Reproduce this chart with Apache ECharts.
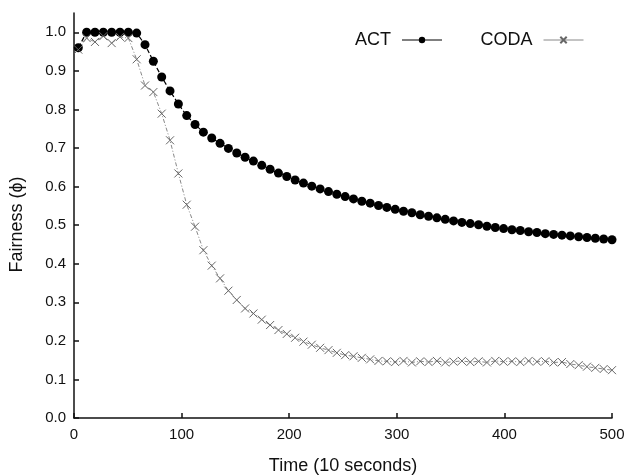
<!DOCTYPE html>
<html>
<head>
<meta charset="utf-8">
<script src="https://cdn.jsdelivr.net/npm/echarts@6/dist/echarts.min.js"></script>
<style>html,body{margin:0;padding:0;background:#fff}#c{width:638px;height:476px}</style>
</head>
<body>
<div id="c"></div>
<script>
// Time positions (10 s units)
var times = [4, 11.75, 19.5, 27.25, 35, 42.75, 50.5, 58.25, 66, 73.75, 81.5, 89.25, 97, 104.75, 112.5, 120.25,
  128, 135.75, 143.5, 151.25, 159, 166.75, 174.5, 182.25, 190, 197.75, 205.5, 213.25, 221, 228.75, 236.5, 244.25,
  252, 259.75, 267.5, 275.25, 283, 290.75, 298.5, 306.25, 314, 321.75, 329.5, 337.25, 345, 352.75, 360.5, 368.25,
  376, 383.75, 391.5, 399.25, 407, 414.75, 422.5, 430.25, 438, 445.75, 453.5, 461.25, 469, 476.75, 484.5, 492.25, 500];

var actValues = [0.96, 1.0, 1.0, 1.0, 1.0, 1.0, 1.0, 0.998, 0.968, 0.925, 0.884, 0.848, 0.814, 0.784, 0.761, 0.741,
  0.726, 0.712, 0.699, 0.687, 0.676, 0.666, 0.655, 0.645, 0.635, 0.626, 0.617, 0.609, 0.601, 0.594, 0.587, 0.580,
  0.574, 0.568, 0.562, 0.557, 0.551, 0.546, 0.541, 0.536, 0.532, 0.527, 0.523, 0.519, 0.515, 0.511, 0.507, 0.504,
  0.501, 0.497, 0.494, 0.491, 0.488, 0.486, 0.483, 0.481, 0.478, 0.476, 0.474, 0.472, 0.470, 0.468, 0.466, 0.464, 0.462];

var codaValues = [0.955, 0.985, 0.975, 0.99, 0.972, 0.988, 0.985, 0.93, 0.862, 0.845, 0.789, 0.720, 0.634, 0.553, 0.496, 0.435,
  0.395, 0.362, 0.330, 0.306, 0.284, 0.271, 0.255, 0.241, 0.228, 0.218, 0.208, 0.198, 0.190, 0.182, 0.176, 0.169,
  0.163, 0.160, 0.156, 0.152, 0.148, 0.147, 0.145, 0.148, 0.144, 0.147, 0.145, 0.148, 0.144, 0.146, 0.148, 0.145,
  0.147, 0.144, 0.148, 0.146, 0.147, 0.145, 0.148, 0.146, 0.147, 0.144, 0.145, 0.140, 0.137, 0.133, 0.130, 0.127, 0.124];

var xTicks = [0, 100, 200, 300, 400, 500];
var yTicks = [0, 0.1, 0.2, 0.3, 0.4, 0.5, 0.6, 0.7, 0.8, 0.9, 1.0];
var seriesNames = ['ACT', 'CODA'];

function pairs(xs, ys) { return xs.map(function (x, i) { return [x, ys[i]]; }); }

var font = 'Liberation Sans, Arial, Helvetica, sans-serif';
var chart = echarts.init(document.getElementById('c'));
chart.setOption({
  animation: false,
  backgroundColor: '#fff',
  grid: { left: 74, right: 26, top: 13, bottom: 58, containLabel: false, outerBoundsMode: 'none' },
  legend: {
    left: 350, top: 26, align: 'right', itemWidth: 40, itemHeight: 8, itemGap: 38,
    textStyle: { fontFamily: font, fontSize: 18, color: '#111', padding: [0, 6, 0, 0] },
    lineStyle: { type: 'solid', width: 1 },
    data: seriesNames
  },
  xAxis: {
    type: 'value', min: 0, max: 500, interval: 100,
    name: 'Time (10 seconds)', nameLocation: 'middle', nameGap: 39,
    nameTextStyle: { fontFamily: font, fontSize: 18, color: '#111' },
    axisLine: { lineStyle: { color: '#111', width: 1.5 } },
    axisTick: { inside: true, length: 5, lineStyle: { color: '#111', width: 1.5 }, customValues: xTicks },
    axisLabel: { fontFamily: font, fontSize: 15, color: '#111', margin: 9, customValues: xTicks },
    splitLine: { show: false }
  },
  yAxis: {
    type: 'value', min: 0, max: 1.05,
    name: 'Fairness (ϕ)', nameLocation: 'middle', nameGap: 48,
    nameTextStyle: { fontFamily: font, fontSize: 18, color: '#111', padding: [0, 0, 0, -18] },
    axisLine: { show: true, lineStyle: { color: '#111', width: 1.5 } },
    axisTick: { show: true, inside: true, length: 5, lineStyle: { color: '#111', width: 1.5 }, customValues: yTicks },
    axisLabel: { fontFamily: font, fontSize: 15, color: '#111', margin: 8, customValues: yTicks,
      formatter: function (v) { return v.toFixed(1); } },
    splitLine: { show: false }
  },
  series: [
    {
      name: 'ACT', type: 'line', data: pairs(times, actValues),
      symbol: 'circle', symbolSize: 9, showAllSymbol: true,
      itemStyle: { color: '#000' },
      lineStyle: { color: '#000', width: 1.2, type: 'dashed' }
    },
    {
      name: 'CODA', type: 'line', data: pairs(times, codaValues),
      symbol: 'path://M0,0L10,10M10,0L0,10', symbolSize: 8, showAllSymbol: true,
      itemStyle: { color: 'rgba(0,0,0,0)', borderColor: '#666', borderWidth: 1 },
      lineStyle: { color: '#888', width: 1, type: [4, 2, 1, 2] }
    }
  ]
});
</script>
</body>
</html>
